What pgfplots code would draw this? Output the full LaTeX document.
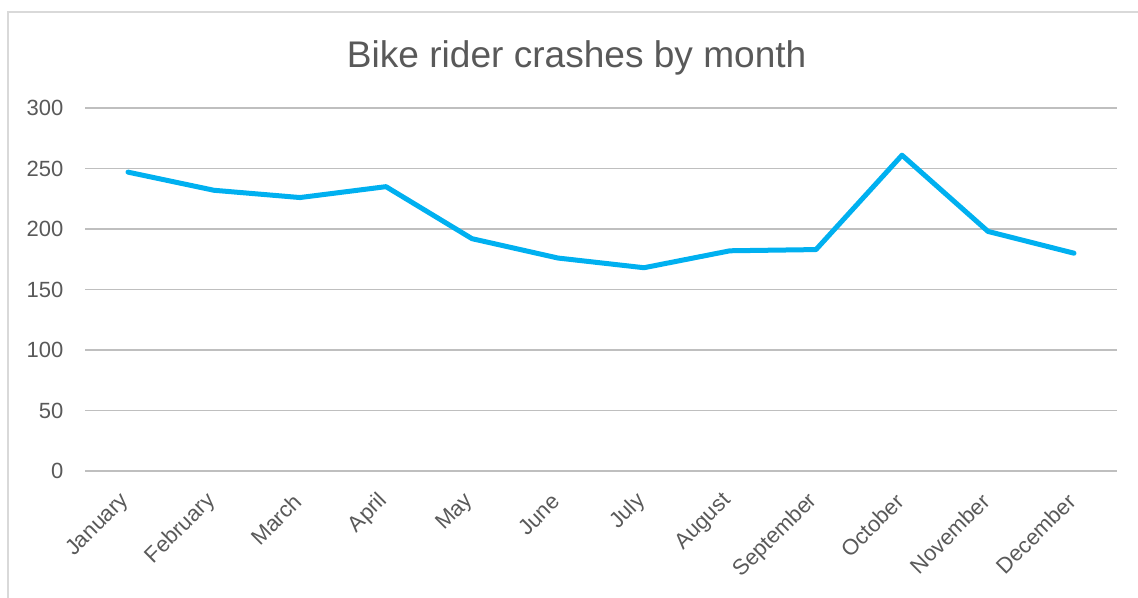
\documentclass[border=0pt]{standalone}
\usepackage{pgfplots}
\pgfplotsset{compat=1.18}
\usepackage{fontspec}
\setmainfont{Liberation Sans}
\definecolor{txt}{HTML}{595959}
\definecolor{grid}{HTML}{D9D9D9}
\definecolor{line}{HTML}{00B0F0}
\begin{document}
\begin{tikzpicture}
\useasboundingbox (0,0) rectangle (853.5pt,447.75pt);
\begin{scope}
\clip (0,0) rectangle (853.5pt,447.75pt);
\draw[grid, line width=1.2pt] (6pt,-20pt) rectangle (880pt,438.75pt);
\end{scope}
\node[text=txt, font=\fontsize{27.8}{32}\selectfont] at (432.5pt,404pt) {Bike rider crashes by month};
\begin{axis}[
  at={(63.75pt,94.5pt)}, anchor=south west,
  scale only axis, width=774pt, height=272.25pt,
  xmin=-0.5, xmax=11.5, ymin=0, ymax=300,
  ytick={0,50,...,300},
  xtick={0,...,11},
  xticklabels={January,February,March,April,May,June,July,August,September,October,November,December},
  axis line style={draw=none},
  major tick length=0pt,
  xmajorgrids=false,
  ymajorgrids=true, grid style={grid, line width=1.25pt},
  tick label style={text=txt, font=\fontsize{16.5}{19}\selectfont},
  /pgf/number format/assume math mode=true,
  yticklabel style={anchor=east, inner sep=0pt, xshift=-16pt},
  xticklabel style={xshift=-1.5pt, yshift=-20pt, rotate=45, anchor=east, inner sep=0pt},
  clip=false,
]
\addplot[line, line width=3.75pt, line join=round, line cap=round] coordinates {
(0,247) (1,232) (2,226) (3,235) (4,192) (5,176) (6,168) (7,182) (8,183) (9,261) (10,198) (11,180)
};
\end{axis}
\end{tikzpicture}
\end{document}
